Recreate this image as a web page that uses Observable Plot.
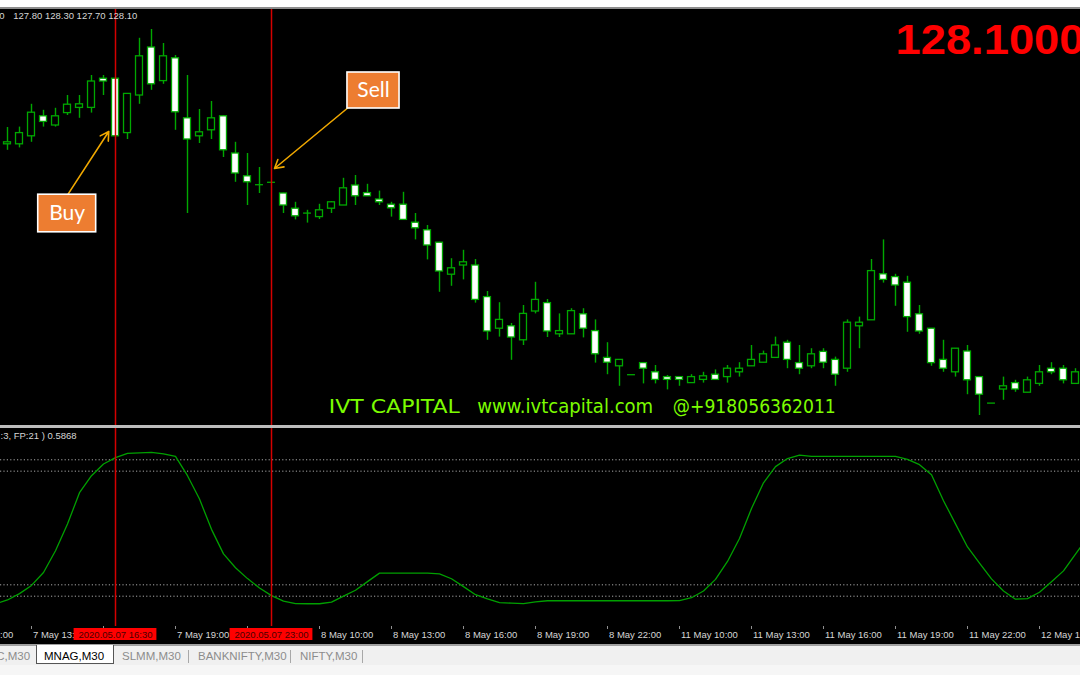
<!DOCTYPE html>
<html><head><meta charset="utf-8">
<script src="https://cdn.jsdelivr.net/npm/d3@7"></script>
<script src="https://cdn.jsdelivr.net/npm/@observablehq/plot@0.6"></script>
<style>
html,body{margin:0;padding:0;background:#fff;}
#wrap{position:relative;width:1080px;height:675px;overflow:hidden;background:#f0f0f0;font-family:"Liberation Sans",Arial,sans-serif;}
.abs{position:absolute;left:0;}
.tab{position:absolute;top:3px;font-size:11.5px;line-height:14px;color:#8c8c8c;white-space:nowrap;}
.sep{position:absolute;top:4px;width:1px;height:13px;background:#a8a8a8;}
</style></head><body>
<div id="wrap">
  <div class="abs" style="top:0;width:1080px;height:7px;background:#fff"></div>
  <div class="abs" style="top:7px;width:1080px;height:2px;background:#8c8c8c"></div>
  <div id="main" class="abs" style="top:9px"></div>
  <div class="abs" style="top:425px;width:1080px;height:3px;background:#bdbdbd"></div>
  <div id="ind" class="abs" style="top:428px"></div>
  <div id="axis" class="abs" style="top:626px"></div>
  <div class="abs" style="top:644px;width:1080px;height:2px;background:#a0a0a0"></div>
  <div id="tabs" class="abs" style="top:646px;width:1080px;height:29px;background:#f0f0f0">
    <div class="abs" style="top:19px;width:1080px;height:10px;background:#f6f6f6"></div>
    <span class="tab" style="left:-30px">ONGC,M30</span>
    <div style="position:absolute;left:36px;top:-1px;width:76px;height:18px;background:#fff;border:1px solid #555;border-top:none;"></div>
    <span class="tab" style="left:44px;color:#000">MNAG,M30</span>
    <span class="tab" style="left:122px">SLMM,M30</span>
    <div class="sep" style="left:188px"></div>
    <span class="tab" style="left:198px">BANKNIFTY,M30</span>
    <div class="sep" style="left:290px"></div>
    <span class="tab" style="left:300px">NIFTY,M30</span>
    <div class="sep" style="left:362px"></div>
  </div>
</div>
<script>
// ---------- data ----------
const open = [133.78,133.78,133.98,134.48,134.25,134.56,134.69,134.69,135.42,135.42,
134.06,135.00,136.20,135.36,135.93,134.43,133.98,134.13,134.48,133.55,
132.98,132.77,132.83,132.55,132.17,132.06,131.96,132.17,132.25,132.75,
132.56,132.40,132.27,132.27,131.82,131.63,131.32,130.52,130.75,130.75,
129.96,129.17,129.23,128.88,129.60,129.81,129.03,129.03,129.53,129.11,
128.44,128.23,128.02,128.31,128.08,127.96,127.96,127.81,127.89,128.02,
127.96,128.08,128.23,128.32,128.44,128.82,128.31,128.23,128.59,128.39,
128.17,129.23,129.38,130.53,130.46,130.32,129.53,129.17,128.39,128.08,
128.60,127.96,127.31,127.65,127.81,127.57,127.79,128.17,128.17,127.79];
const high = [134.20,134.21,134.78,134.63,134.68,135.00,135.00,135.50,135.50,135.43,
135.05,136.43,136.65,136.30,136.00,135.50,134.65,134.85,134.50,133.83,
133.55,133.20,132.83,132.56,132.33,132.13,132.28,132.35,132.93,133.00,
132.78,132.61,132.33,132.58,132.05,131.75,131.33,130.92,131.13,130.90,
130.10,129.82,129.30,129.75,130.33,129.90,129.54,129.67,129.67,129.39,
128.82,128.40,128.02,128.31,128.25,128.00,127.96,128.02,128.08,128.14,
128.25,128.32,128.75,128.61,128.96,128.88,128.75,128.67,128.67,128.46,
129.39,129.46,130.90,131.39,130.53,130.48,129.75,129.17,128.88,128.67,
128.75,127.96,127.31,127.96,127.88,127.96,128.25,128.32,128.25,128.17];
const low = [133.63,133.69,133.83,134.21,134.21,134.50,134.43,134.56,135.00,133.98,
133.90,134.78,135.13,135.28,134.13,132.05,133.80,133.90,133.45,132.83,
132.25,132.55,132.83,132.05,131.89,131.81,131.90,132.05,132.25,132.25,
132.48,132.25,131.96,131.89,131.39,130.89,130.08,130.23,130.39,129.81,
128.88,128.96,128.38,128.75,129.54,128.95,128.95,129.03,128.94,128.31,
128.02,127.73,128.02,127.79,127.79,127.64,127.73,127.81,127.81,127.89,
127.81,127.96,128.23,128.32,128.44,128.17,128.02,128.17,128.17,127.73,
128.08,128.67,129.38,130.31,129.73,129.08,129.03,128.23,128.08,127.96,
127.52,127.00,127.31,127.38,127.58,127.57,127.73,128.02,127.79,127.79];
const close = [133.83,134.06,134.57,134.34,134.48,134.77,134.78,135.35,135.35,133.98,
135.04,135.98,135.28,135.98,134.58,133.90,134.08,134.43,133.63,133.05,
132.83,132.77,132.83,132.25,131.98,132.06,132.13,132.33,132.68,132.48,
132.48,132.33,132.18,131.89,131.68,131.25,130.60,130.68,130.83,129.89,
129.10,129.39,128.95,129.54,129.89,129.10,129.11,129.61,129.17,128.53,
128.32,128.39,128.02,128.17,127.89,127.89,127.89,127.96,127.98,127.89,
128.17,128.17,128.39,128.53,128.75,128.39,128.17,128.53,128.32,128.02,
129.32,129.32,130.61,130.39,130.25,129.46,129.10,128.31,128.17,128.67,
127.88,127.52,127.31,127.73,127.65,127.88,128.08,128.08,127.88,128.08];
// oscillator, first value belongs to bar -1
const oscStart = -1;
const osc = [0.000,
0.025,0.067,0.121,0.206,0.350,0.526,0.733,0.845,0.922,0.964,
0.993,0.996,0.999,0.989,0.972,0.845,0.691,0.491,0.329,0.238,
0.166,0.104,0.054,0.018,0.001,0.000,0.000,0.011,0.050,0.089,
0.146,0.202,0.202,0.202,0.202,0.202,0.197,0.165,0.113,0.060,
0.032,0.008,0.004,0.001,0.012,0.020,0.020,0.020,0.020,0.020,
0.020,0.020,0.020,0.020,0.020,0.020,0.021,0.040,0.084,0.161,
0.279,0.431,0.629,0.798,0.905,0.958,0.981,0.972,0.972,0.972,
0.972,0.972,0.972,0.972,0.972,0.953,0.918,0.852,0.680,0.527,
0.375,0.268,0.164,0.084,0.030,0.034,0.076,0.146,0.217,0.327,
0.437];
const oscLevels = [0.95, 0.875, 0.125, 0.05];
const signalBars = [9, 22];
const signalLabels = ["2020.05.07 16:30", "2020.05.07 23:00"];
const tickBars = [-4, 2, 8, 14, 20, 26, 32, 38, 44, 50, 56, 62, 68, 74, 80, 86];
const tickLabels = ["7 May 10:00","7 May 13:00","7 May 16:00","7 May 19:00","7 May 22:00",
  "8 May 10:00","8 May 13:00","8 May 16:00","8 May 19:00","8 May 22:00",
  "11 May 10:00","11 May 13:00","11 May 16:00","11 May 19:00","11 May 22:00","12 May 10:00"];
const symbol = "MNAG,M30";
const headerOHLC = [127.80, 128.30, 127.70, 128.10];
const bidPrice = 128.1;
const indicatorValue = 0.5868;
const noteLabels = ["Buy", "Sell"];
const noteBoxBars = [[2.56, 7.39], [28.33, 32.67]];
const noteBoxPrices = [[131.58, 132.52], [134.675, 135.575]];
const arrowFrom = [[5.06, 132.54], [28.5, 134.725]];
const arrowTo = [[8.44, 134.10], [22.25, 133.175]];
const brandText = ["IVT CAPITAL", "www.ivtcapital.com", "@+918056362011"];
const brandBars = [26.78, 39.14, 55.44];
const brandPrice = 127.07;

// ---------- styles ----------
const GREEN = "#00a800", RED = "#d40000", GRAY_TXT = "#d6d6d6";
const FONT = "Liberation Sans, Arial, sans-serif";
const xDomain = [-7/12, 1073/12];

const bars = open.map((o, i) => ({i, o, h: high[i], l: low[i], c: close[i]}));
const bodies = bars.filter(d => Math.abs(d.c - d.o) >= 0.02);
const dojis = bars.filter(d => Math.abs(d.c - d.o) < 0.02);
const notes = noteLabels.map((t, k) => ({
  t, x1: noteBoxBars[k][0], x2: noteBoxBars[k][1], y1: noteBoxPrices[k][0], y2: noteBoxPrices[k][1],
  ax1: arrowFrom[k][0], ay1: arrowFrom[k][1], ax2: arrowTo[k][0], ay2: arrowTo[k][1]
}));
const brand = brandText.map((t, k) => ({t, x: brandBars[k], y: brandPrice}));
const oscData = osc.map((v, k) => ({i: k + oscStart, v}));
// time labels that the signal date boxes cover are not shown
const ticks = tickBars.map((b, k) => ({b, label: tickLabels[k],
  hidden: signalBars.some(s => b > s - 3.45 && b < s + 3.45)}));

const main = Plot.plot({
  width: 1080, height: 416, margin: 0,
  style: {background: "#000", overflow: "hidden"},
  x: {domain: xDomain, axis: null},
  y: {domain: [126.75, 137.15], axis: null},
  marks: [
    Plot.ruleX(bars, {x: "i", y1: "l", y2: "h", stroke: GREEN, strokeWidth: 1.4}),
    Plot.rect(bodies, {x1: d => d.i - 0.29, x2: d => d.i + 0.29, y1: "o", y2: "c",
      fill: d => d.c < d.o ? "#ffffff" : "#000000", stroke: GREEN, strokeWidth: 1.3}),
    Plot.ruleY(dojis, {x1: d => d.i - 0.33, x2: d => d.i + 0.33, y: "o", stroke: GREEN, strokeWidth: 1.3}),
    Plot.ruleX(signalBars, {x: d => d, stroke: RED, strokeWidth: 1.5}),
    Plot.arrow(notes, {x1: "ax1", y1: "ay1", x2: "ax2", y2: "ay2", stroke: "#f0a800", strokeWidth: 1.6, headLength: 9}),
    Plot.rect(notes, {x1: "x1", x2: "x2", y1: "y1", y2: "y2", fill: "#ED7D31", stroke: "#ffffff", strokeWidth: 1.6}),
    Plot.text(notes, {x: d => (d.x1 + d.x2) / 2, y: d => (d.y1 + d.y2) / 2, text: "t", fill: "#ffffff",
      fontSize: 21, fontFamily: "Lato, Carlito, sans-serif"}),
    Plot.text([symbol], {frameAnchor: "top-left", textAnchor: "end", lineAnchor: "top", dx: 4, dy: 3,
      fill: GRAY_TXT, fontSize: 9.5, fontFamily: FONT}),
    Plot.text([headerOHLC.map(v => v.toFixed(2)).join(" ")], {frameAnchor: "top-left", textAnchor: "start",
      lineAnchor: "top", dx: 12.7, dy: 3, fill: GRAY_TXT, fontSize: 9.5, fontFamily: FONT}),
    Plot.text([bidPrice.toFixed(4)], {frameAnchor: "top-left", textAnchor: "start", lineAnchor: "top",
      dx: 895, dy: 14, fill: "#ff0000", fontSize: 43, fontWeight: "bold", fontFamily: FONT}),
    Plot.text(brand, {x: "x", y: "y", text: "t", textAnchor: "start", lineAnchor: "bottom",
      fill: "#7cfc00", fontSize: 19, fontFamily: "DejaVu Sans, sans-serif"})
  ]
});
const fitWidths = {"IVT CAPITAL": 131, "www.ivtcapital.com": 176, "@+918056362011": 163, "128.1000": 189};
main.querySelectorAll("text").forEach(el => {
  const w = fitWidths[el.textContent];
  if (w) { el.setAttribute("textLength", w); el.setAttribute("lengthAdjust", "spacingAndGlyphs"); }
});
document.getElementById("main").appendChild(main);

const ind = Plot.plot({
  width: 1080, height: 198, margin: 0,
  style: {background: "#000", overflow: "hidden"},
  x: {domain: xDomain, axis: null},
  y: {domain: [-0.15, 1.1565], axis: null},
  marks: [
    Plot.ruleY(oscLevels, {y: d => d, stroke: "#a8a8a8", strokeDasharray: "1.2,2.2", strokeWidth: 1}),
    Plot.line(oscData, {x: "i", y: "v", stroke: "#00a000", strokeWidth: 1.3}),
    Plot.ruleX(signalBars, {x: d => d, stroke: RED, strokeWidth: 1.5}),
    Plot.text([":3, FP:21 ) " + indicatorValue.toFixed(4)], {frameAnchor: "top-left", textAnchor: "start",
      lineAnchor: "top", dx: 0, dy: 4, fill: GRAY_TXT, fontSize: 9.5, fontFamily: FONT})
  ]
});
document.getElementById("ind").appendChild(ind);

const axis = Plot.plot({
  width: 1080, height: 18, margin: 0,
  style: {background: "#000", overflow: "hidden"},
  x: {domain: xDomain, axis: null},
  marks: [
    Plot.tickX(tickBars, {x: d => d, stroke: "#909090", insetBottom: 15}),
    Plot.text(ticks.filter(d => !d.hidden), {x: "b", text: "label", frameAnchor: "top", textAnchor: "start",
      lineAnchor: "top", dx: 1.5, dy: 5, fill: GRAY_TXT, fontSize: 9.5, fontFamily: FONT}),
    Plot.rect(signalBars, {x1: d => d - 3.45, x2: d => d + 3.45, fill: "#ff0000", insetTop: 2, insetBottom: 4}),
    Plot.text(signalBars, {x: d => d, text: (d, i) => signalLabels[i], frameAnchor: "top",
      lineAnchor: "top", dy: 4.5, fill: "#4a0000", fontSize: 9.5, fontFamily: FONT})
  ]
});
document.getElementById("axis").appendChild(axis);
</script>
</body></html>
